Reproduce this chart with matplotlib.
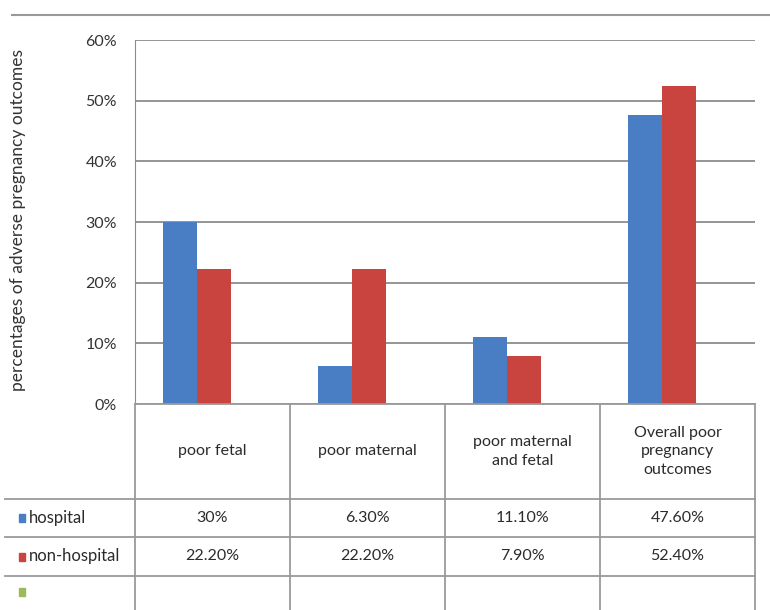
import matplotlib.pyplot as plt
import numpy as np
from matplotlib.lines import Line2D

plt.rcParams['font.family'] = ['Lato', 'DejaVu Sans']

categories = ['poor fetal', 'poor maternal', 'poor maternal\nand fetal',
              'Overall poor\npregnancy\noutcomes']
hospital = [30, 6.3, 11.1, 47.6]
non_hospital = [22.2, 22.2, 7.9, 52.4]
hospital_labels = ['30%', '6.30%', '11.10%', '47.60%']
non_hospital_labels = ['22.20%', '22.20%', '7.90%', '52.40%']
series_names = ['hospital', 'non-hospital', '']
yticks = [0, 10, 20, 30, 40, 50, 60]

blue = '#4a7ec4'
red = '#c9443f'
green = '#9bbb59'
grid = '#8c8c8c'
W, H = 770, 610

fig = plt.figure(figsize=(W / 100, H / 100), dpi=100)

def fx(px):
    return px / W

def fy(py):
    return 1 - py / H

# plot area
x0, x1, ytop, ybot = 135, 755, 40, 404
ax = fig.add_axes([fx(x0), fy(ybot), fx(x1 - x0), fy(ytop) - fy(ybot)])
n = len(categories)
x = np.arange(n)
bw = 0.22
ax.bar(x - bw / 2, hospital, bw, color=blue, zorder=3)
ax.bar(x + bw / 2, non_hospital, bw, color=red, zorder=3)
# bars sit a little left of the table columns in the original
ax.set_xlim(-0.4, n - 0.4)
ax.set_ylim(0, 60)
ax.set_yticks(yticks)
ax.set_yticklabels([f'{t}%' for t in yticks], fontsize=11.5, color='#333333')
ax.set_xticks([])
ax.yaxis.grid(True, color=grid, linewidth=1.3, zorder=0)
for s in ['top', 'right', 'bottom']:
    ax.spines[s].set_visible(False)
ax.spines['left'].set_color(grid)
ax.tick_params(axis='y', length=0, pad=13)
ax.set_ylabel('percentages of adverse pregnancy outcomes', fontsize=12.5,
              color='#333333')
ax.yaxis.set_label_coords(-0.176, 0.505)

# outer top border
fig.add_artist(Line2D([fx(12), fx(770)], [fy(15), fy(15)], color='#999999', lw=1.5))

# data table
rows_y = [404, 499, 537, 576, 610]
cols_x = [x0 + i * (x1 - x0) / n for i in range(n + 1)]
lc = '#9a9a9a'
for yy in rows_y[:-1]:
    xa = x0 if yy == rows_y[0] else 5
    fig.add_artist(Line2D([fx(xa), fx(x1)], [fy(yy), fy(yy)], color=lc, lw=1.3))
for xx in cols_x:
    fig.add_artist(Line2D([fx(xx), fx(xx)], [fy(rows_y[0]), fy(H)], color=lc, lw=1.3))

txt = '#2b2b2b'
for i, c in enumerate(categories):
    cx = (cols_x[i] + cols_x[i + 1]) / 2
    fig.text(fx(cx), fy((rows_y[0] + rows_y[1]) / 2), c, ha='center', va='center',
             fontsize=11.5, color=txt, linespacing=1.45)
    fig.text(fx(cx), fy((rows_y[1] + rows_y[2]) / 2), hospital_labels[i],
             ha='center', va='center', fontsize=11.5, color=txt)
    fig.text(fx(cx), fy((rows_y[2] + rows_y[3]) / 2), non_hospital_labels[i],
             ha='center', va='center', fontsize=11.5, color=txt)

for k, (name, col) in enumerate(zip(series_names, [blue, red, green])):
    cy = (rows_y[k + 1] + rows_y[k + 2]) / 2 - (1 if k == 2 else 0)
    fig.add_artist(plt.Rectangle((fx(19), fy(cy + 4)), fx(6), fy(cy - 4) - fy(cy + 4),
                                 color=col, transform=fig.transFigure))
    fig.text(fx(29), fy(cy), name, ha='left', va='center', fontsize=12, color=txt)

fig.savefig('out.png', dpi=100)
